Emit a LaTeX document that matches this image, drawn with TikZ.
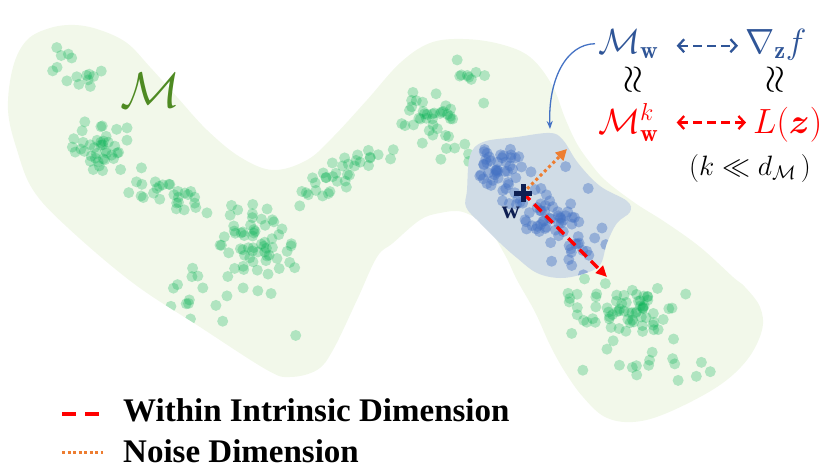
\RequirePackage{fix-cm}
\documentclass[tikz,border=0pt]{standalone}
\usepackage{amsmath}
\usepackage{fontspec}
\newfontfamily\legendfont{Liberation Serif}
\usetikzlibrary{arrows.meta}
\definecolor{bgGreen}{HTML}{F2F8EA}
\definecolor{dotGreen}{HTML}{00B050}
\definecolor{regionBlue}{HTML}{D0DCE6}
\definecolor{dotBlue}{HTML}{4472C4}
\definecolor{txtBlue}{HTML}{2F5597}
\definecolor{arrBlue}{HTML}{4472C4}
\definecolor{manGreen}{HTML}{4E8A22}
\definecolor{navyc}{HTML}{0E1F52}
\definecolor{orng}{HTML}{ED7D31}
\definecolor{redc}{HTML}{FF0000}
\newcommand{\dotcloud}[7]{%
  \foreach \ii in {1,...,#6}{%
    \pgfmathsetmacro{\ua}{(0.6*rand+0.4*rand)*#3}%
    \pgfmathsetmacro{\ub}{(0.6*rand+0.4*rand)*#4}%
    \pgfmathsetmacro{\px}{#1+\ua*cos(#5)-\ub*sin(#5)}%
    \pgfmathsetmacro{\py}{#2+\ua*sin(#5)+\ub*cos(#5)}%
    \fill[#7] (\px,\py) circle[radius=5.5pt];%
  }}
\newcommand{\blobpts}{(8,110) (17,150) (33,190) (67,227) (133,283) (200,327) (267,370) (290,377) (317,370) (333,350) (357,300) (377,257) (393,243) (420,220) (440,213) (463,212) (487,227) (505,255) (517,280) (535,312) (550,345) (565,372) (583,397) (605,417) (633,422) (667,413) (717,387) (747,360) (762,330) (760,307) (745,287) (733,277) (700,247) (665,222) (635,203) (605,180) (588,160) (576,142) (565,118) (552,85) (530,57) (500,44) (463,39) (430,43) (400,63) (367,100) (333,137) (307,160) (273,170) (240,157) (207,130) (177,97) (150,67) (127,43) (100,30) (75,25) (50,28) (27,40) (13,67)}
\newcommand{\bluepts}{(550,133) (517,137) (483,142) (470,156) (467,190) (466,207) (480,223) (500,243) (517,258) (537,273) (560,278) (583,274) (600,265) (607,243) (617,223) (630,212) (627,201) (600,186) (578,163) (563,140)}
\begin{document}
\begin{tikzpicture}[x=1pt,y=-1pt,
  gdot/.style={fill=dotGreen, fill opacity=0.27},
  bdot/.style={fill=dotBlue, fill opacity=0.42},
  mathtxt/.style={inner sep=0pt, font=\fontsize{35}{40}\selectfont},
  wrtxt/.style={rotate=90, inner sep=0pt, font=\fontsize{38}{40}\selectfont},
  legtxt/.style={anchor=base west, inner sep=0pt, font=\legendfont\bfseries\fontsize{33}{38}\selectfont},
  duo/.style={line width=2.3pt, dash pattern=on 9pt off 5pt, {Straight Barb[length=6pt,width=13pt]}-{Straight Barb[length=6pt,width=13pt]}}
]
\useasboundingbox (0,0) rectangle (830,474);
\pgfmathsetseed{11}
% manifold
\fill[bgGreen] plot[smooth cycle, tension=0.6] coordinates {\blobpts};
\begin{scope}
\clip plot[smooth cycle, tension=0.6] coordinates {\blobpts};
\dotcloud{75}{62}{45}{28}{30}{15}{gdot}
\dotcloud{100}{145}{35}{30}{20}{40}{gdot}
\dotcloud{170}{195}{45}{20}{20}{28}{gdot}
\dotcloud{255}{243}{50}{40}{40}{60}{gdot}
\dotcloud{215}{300}{110}{40}{30}{18}{gdot}
\dotcloud{345}{175}{60}{22}{-35}{35}{gdot}
\dotcloud{430}{118}{40}{28}{10}{35}{gdot}
\dotcloud{470}{80}{45}{25}{15}{9}{gdot}
\dotcloud{455}{150}{18}{18}{0}{6}{gdot}
\dotcloud{622}{312}{70}{32}{5}{70}{gdot}
\dotcloud{650}{365}{80}{25}{0}{15}{gdot}
\end{scope}
% neighbourhood
\fill[regionBlue] plot[smooth cycle, tension=0.6] coordinates {\bluepts};
\begin{scope}
\clip plot[smooth cycle, tension=0.6] coordinates {\bluepts};
\dotcloud{502}{168}{30}{25}{30}{38}{bdot}
\dotcloud{560}{228}{55}{22}{45}{40}{bdot}
\dotcloud{548}{208}{80}{50}{40}{36}{bdot}
\end{scope}
% point w and directions
\coordinate (w) at (523,193);
\coordinate (noiseEnd) at (567,149);
\coordinate (intrEnd) at (607,277);
\draw[orng, line width=3pt, dash pattern=on 3pt off 3pt, -{Triangle[length=11pt,width=11pt]}] (w) -- (noiseEnd);
\draw[redc, line width=3.2pt, dash pattern=on 10pt off 6pt, -{Triangle[length=11pt,width=10pt]}] (w) -- (intrEnd);
\draw[navyc, line width=5pt] ([xshift=-9pt]w) -- ([xshift=9pt]w) ([yshift=-9pt]w) -- ([yshift=9pt]w);
\node[navyc, anchor=base, inner sep=0pt, font=\legendfont\bfseries\fontsize{25}{28}\selectfont] (wlab) at (511,218) {w};
% manifold label
\node[manGreen, anchor=base west, inner sep=0pt, font=\fontsize{50}{56}\selectfont] (Mlab) at (120,107) {$\mathcal{M}$};
% formulas
\node[txtBlue, mathtxt, anchor=base west] (Mw) at (598,53) {$\mathcal{M}_{\mathbf{w}}$};
\node[txtBlue, mathtxt, anchor=base west] (grad) at (745,53) {$\nabla_{\mathbf{z}} f$};
\node[redc, mathtxt, anchor=base west] (Mwk) at (598,133) {$\mathcal{M}^{k}_{\mathbf{w}}$};
\node[redc, mathtxt, anchor=base west] (Lz) at (753,133) {$L(\boldsymbol{z})$};
\node[wrtxt] (wr1) at (634,80) {$\approx$};
\node[wrtxt] (wr2) at (776,80) {$\approx$};
\node[inner sep=0pt, font=\fontsize{28}{32}\selectfont] (kd) at (750,168) {$(k \ll d_{\mathcal{M}}\,)$};
\draw[txtBlue, duo] ([xshift=18pt,yshift=-2pt]Mw.east) -- ([xshift=-7pt,yshift=-2pt]Mw.east -| grad.west);
\draw[redc, duo] ([xshift=18pt]Mwk.east) -- ([xshift=-7pt]Mwk.east -| Lz.west);
\coordinate (blueTip) at (550,129);
\draw[arrBlue, line width=1.3pt, -{Stealth[length=8pt,width=6pt]}] ([xshift=-3pt]Mw.west) .. controls (566,44) and (548,80) .. (blueTip);
% legend
\coordinate (l1a) at (62,414);
\coordinate (l1b) at (103,414);
\coordinate (l2a) at (62,452);
\coordinate (l2b) at (103,452);
\draw[redc, line width=3.5pt, dash pattern=on 14pt off 9pt] (l1a) -- (l1b);
\draw[orng, line width=3pt, dash pattern=on 3pt off 2.5pt] (l2a) -- (l2b);
\node[legtxt] (leg1) at (123,421) {Within Intrinsic Dimension};
\node[legtxt] (leg2) at (123,462) {Noise Dimension};
\end{tikzpicture}
\end{document}
